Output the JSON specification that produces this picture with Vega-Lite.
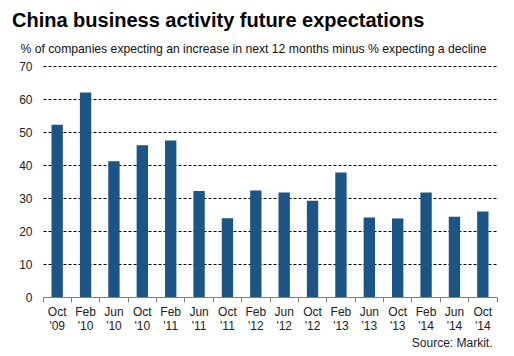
{
  "$schema": "https://vega.github.io/schema/vega-lite/v6.json",
  "width": 454,
  "height": 231,
  "autosize": "none",
  "padding": {"left": 43, "top": 66, "right": 17, "bottom": 59},
  "background": "white",
  "title": {
    "text": "China business activity future expectations",
    "anchor": "start",
    "frame": "group",
    "dx": -31,
    "dy": 21,
    "offset": 16,
    "fontSize": 20,
    "fontWeight": "bold",
    "font": "Liberation Sans",
    "color": "#000000",
    "baseline": "alphabetic"
  },
  "data": {
    "values": [
      {"period": "Oct '09", "value": 52.2},
      {"period": "Feb '10", "value": 62.0},
      {"period": "Jun '10", "value": 41.1},
      {"period": "Oct '10", "value": 46.0},
      {"period": "Feb '11", "value": 47.4},
      {"period": "Jun '11", "value": 32.1},
      {"period": "Oct '11", "value": 23.9},
      {"period": "Feb '12", "value": 32.3},
      {"period": "Jun '12", "value": 31.7},
      {"period": "Oct '12", "value": 29.2},
      {"period": "Feb '13", "value": 37.7},
      {"period": "Jun '13", "value": 24.1},
      {"period": "Oct '13", "value": 23.8},
      {"period": "Feb '14", "value": 31.7},
      {"period": "Jun '14", "value": 24.3},
      {"period": "Oct '14", "value": 25.9}
    ]
  },
  "mark": {"type": "bar", "color": "#1b5586", "width": {"band": 0.4}},
  "encoding": {
    "x": {
      "field": "period",
      "type": "nominal",
      "sort": null,
      "scale": {"paddingInner": 0, "paddingOuter": 0},
      "axis": {
        "title": "Source: Markit.",
        "titleFont": "Liberation Sans",
        "titleFontSize": 12,
        "titleFontWeight": "normal",
        "titleColor": "#222222",
        "titleAlign": "right",
        "titleAnchor": null,
        "titleX": 449,
        "titleY": 49,
        "titleBaseline": "alphabetic",
        "labelAngle": 0,
        "labelExpr": "split(datum.label, ' ')",
        "labelFont": "Liberation Sans",
        "labelFontSize": 12,
        "labelLineHeight": 14,
        "labelColor": "#222222",
        "labelPadding": 4,
        "labelBaseline": "top",
        "domainColor": "#808080",
        "domainWidth": 1,
        "tickColor": "#808080",
        "tickSize": 5,
        "bandPosition": 1,
        "tickExtra": true,
        "grid": false
      }
    },
    "y": {
      "field": "value",
      "type": "quantitative",
      "scale": {"domain": [0, 70], "nice": false},
      "axis": {
        "values": [0, 10, 20, 30, 40, 50, 60, 70],
        "title": "% of companies  expecting an increase in next 12 months minus % expecting a decline",
        "titleFont": "Liberation Sans",
        "titleFontSize": 12.2,
        "titleFontWeight": "normal",
        "titleColor": "#111111",
        "titleAngle": 0,
        "titleAlign": "left",
        "titleAnchor": null,
        "titleX": -23,
        "titleY": -14,
        "titleBaseline": "alphabetic",
        "labelFont": "Liberation Sans",
        "labelFontSize": 12,
        "labelColor": "#222222",
        "labelPadding": 11,
        "ticks": false,
        "tickSize": 0,
        "domain": false,
        "grid": true,
        "gridColor": "#000000",
        "gridDash": [3, 2],
        "gridWidth": 1
      }
    }
  },
  "config": {"view": {"stroke": null}}
}
